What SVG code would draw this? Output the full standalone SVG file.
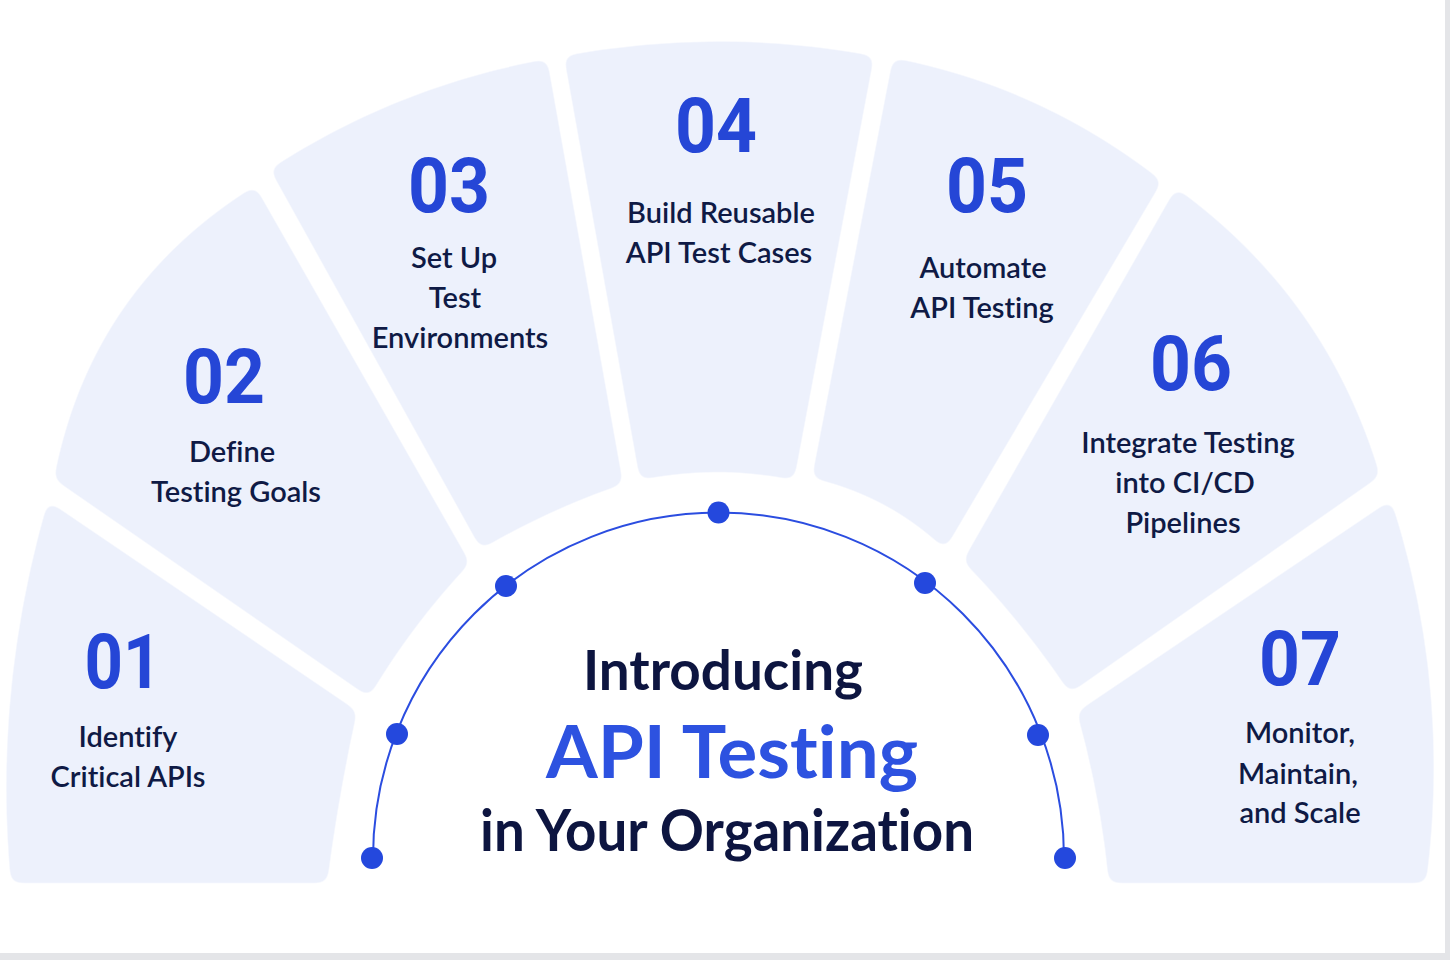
<svg xmlns="http://www.w3.org/2000/svg" width="1450" height="960" viewBox="0 0 1450 960">
  <defs>
    <filter id="round" filterUnits="userSpaceOnUse" x="0" y="0" width="1450" height="960" color-interpolation-filters="sRGB">
      <feGaussianBlur in="SourceAlpha" stdDeviation="6" result="b"/>
      <feComponentTransfer in="b" result="t">
        <feFuncA type="linear" slope="10" intercept="-4.5"/>
      </feComponentTransfer>
      <feFlood flood-color="#edf1fc"/>
      <feComposite in2="t" operator="in"/>
    </filter>
    <style>
      .seg { fill: #edf1fc; filter: url(#round); }
      .num { font-family: Roboto, "Liberation Sans", sans-serif; font-weight: 700; font-size: 76px; fill: #2546d6; text-anchor: middle; }
      .lbl { font-family: Lato, "Liberation Sans", sans-serif; font-weight: 600; font-size: 29px; fill: #0f1a45; text-anchor: middle; font-variant-ligatures: none; }
      .h1 { font-family: Lato, "Liberation Sans", sans-serif; font-weight: 700; fill: #0d1540; text-anchor: middle; font-variant-ligatures: none; }
      .h2 { font-family: Lato, "Liberation Sans", sans-serif; font-weight: 700; fill: #2d52e0; text-anchor: middle; font-variant-ligatures: none; }
      .arc { fill: none; stroke: #2b4de0; stroke-width: 2; }
      .dot { fill: #2448dd; }
    </style>
  </defs>

  <rect x="0" y="0" width="1450" height="960" fill="#e4e5e8"/>
  <rect x="0" y="0" width="1445" height="953" fill="#ffffff"/>

  <g id="step-01">
    <path class="seg" d="M 11 883 Q -7.5 691.5 48 501 L 357 711 Q 338 797 327 883 Z"/>
    <text class="num" x="123" y="688" textLength="77" lengthAdjust="spacingAndGlyphs">01</text>
    <text class="lbl" x="128" y="747">Identify</text>
    <text class="lbl" x="128" y="787">Critical APIs</text>
  </g>

  <g id="step-02">
    <path class="seg" d="M 54 479 Q 90 288 255 186 L 470 563 Q 412 624 369 697 Z"/>
    <text class="num" x="224" y="403" textLength="82" lengthAdjust="spacingAndGlyphs">02</text>
    <text class="lbl" x="232" y="462">Define</text>
    <text class="lbl" x="236" y="502">Testing Goals</text>
  </g>

  <g id="step-03">
    <path class="seg" d="M 270 169 Q 397 86 547 59 L 623 484 Q 549 509 481 549 Z"/>
    <text class="num" x="449" y="212" textLength="82" lengthAdjust="spacingAndGlyphs">03</text>
    <text class="lbl" x="454" y="268">Set Up</text>
    <text class="lbl" x="455" y="308">Test</text>
    <text class="lbl" x="460" y="348">Environments</text>
  </g>

  <g id="step-04">
    <path class="seg" d="M 564 56 Q 719 27 874 56 L 794 480 Q 717 464 640 480 Z"/>
    <text class="num" x="716" y="152" textLength="82" lengthAdjust="spacingAndGlyphs">04</text>
    <text class="lbl" x="721" y="223">Build Reusable</text>
    <text class="lbl" x="719" y="263">API Test Cases</text>
  </g>

  <g id="step-05">
    <path class="seg" d="M 893 58 Q 1042.5 86.7 1162 181 L 945 549 Q 888 495 812 478 Z"/>
    <text class="num" x="987" y="212" textLength="82" lengthAdjust="spacingAndGlyphs">05</text>
    <text class="lbl" x="983" y="278">Automate</text>
    <text class="lbl" x="982" y="318">API Testing</text>
  </g>

  <g id="step-06">
    <path class="seg" d="M 1176 188 Q 1327 297 1380 476 L 1070 693 Q 1023 622 963 561 Z"/>
    <text class="num" x="1191" y="390" textLength="82" lengthAdjust="spacingAndGlyphs">06</text>
    <text class="lbl" x="1188" y="453">Integrate Testing</text>
    <text class="lbl" x="1185" y="493">into CI/CD</text>
    <text class="lbl" x="1183" y="533">Pipelines</text>
  </g>

  <g id="step-07">
    <path class="seg" d="M 1077 712 L 1391 500 Q 1452 687 1426 883 L 1109 883 Q 1101 797 1077 712 Z"/>
    <text class="num" x="1300" y="685" textLength="82" lengthAdjust="spacingAndGlyphs">07</text>
    <text class="lbl" x="1300" y="743">Monitor,</text>
    <text class="lbl" x="1298" y="784">Maintain,</text>
    <text class="lbl" x="1300" y="823">and Scale</text>
  </g>

  <g id="connectors">
    <path class="arc" d="M 373 858 A 345.5 345.5 0 0 1 1064 858"/>
    <circle class="dot" cx="372" cy="858" r="11"/>
    <circle class="dot" cx="397" cy="734" r="11"/>
    <circle class="dot" cx="506" cy="586" r="11"/>
    <circle class="dot" cx="718.5" cy="512.5" r="11"/>
    <circle class="dot" cx="925" cy="583" r="11"/>
    <circle class="dot" cx="1038" cy="735" r="11"/>
    <circle class="dot" cx="1065" cy="858" r="11"/>
  </g>

  <g id="title">
    <text class="h1" x="723" y="690" font-size="55" textLength="280" lengthAdjust="spacingAndGlyphs">Introducing</text>
    <text class="h2" x="732" y="778" font-size="73" textLength="372" lengthAdjust="spacingAndGlyphs">API Testing</text>
    <text class="h1" x="727" y="851" font-size="57" textLength="494" lengthAdjust="spacingAndGlyphs">in Your Organization</text>
  </g>
</svg>
